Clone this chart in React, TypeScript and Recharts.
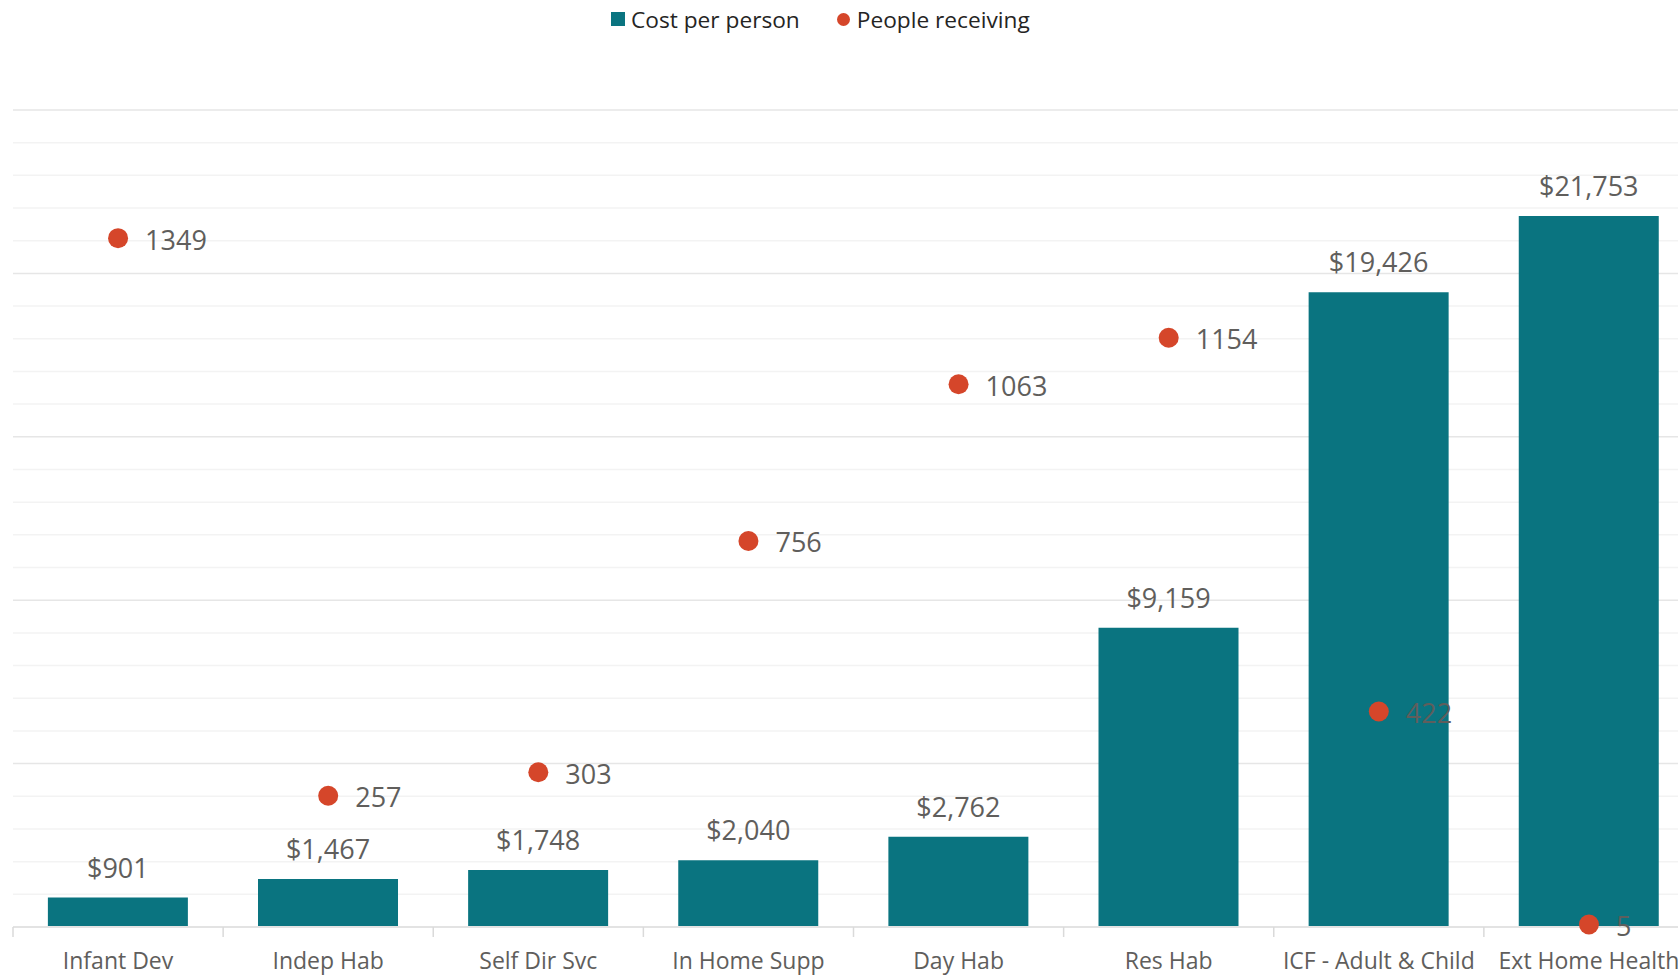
import React from 'react';
import {
  ComposedChart,
  Bar,
  Scatter,
  XAxis,
  YAxis,
  CartesianGrid,
  Legend,
  LabelList,
} from 'recharts';

const categories = [
  'Infant Dev',
  'Indep Hab',
  'Self Dir Svc',
  'In Home Supp',
  'Day Hab',
  'Res Hab',
  'ICF - Adult & Child',
  'Ext Home Health',
];
const costPerPerson = [901, 1467, 1748, 2040, 2762, 9159, 19426, 21753];
const peopleReceiving = [1349, 257, 303, 756, 1063, 1154, 422, 5];

const costDomain = [0, 25000];
const peopleDomain = [0, 1600];
const majorGridValues = [0, 5000, 10000, 15000, 20000, 25000];
const minorGridValues = [
  1000, 2000, 3000, 4000, 6000, 7000, 8000, 9000, 11000, 12000, 13000, 14000,
  16000, 17000, 18000, 19000, 21000, 22000, 23000, 24000,
];

const data = categories.map((name, i) => ({
  name,
  cost: costPerPerson[i],
  people: peopleReceiving[i],
}));

const FONT = '"Open Sans", "Noto Sans", sans-serif';
const TEXT_GRAY = '#605E5C';
const TEAL = '#0A7480';
const RED = '#D5462A';

const XTick = (props: any) => {
  const { x, y, payload } = props;
  const half = payload && typeof payload.offset === 'number' ? payload.offset : 0;
  return (
    <g>
      <line x1={x - half} x2={x - half} y1={y} y2={y + 10} stroke="#DADADA" strokeWidth={1.5} />
      <text
        x={x}
        y={y + 33}
        textAnchor="middle"
        dominantBaseline="central"
        fontSize={23}
        fill={TEXT_GRAY}
        fontFamily={FONT}
      >
        {payload.value}
      </text>
    </g>
  );
};

const PeopleDot = (props: any) => {
  const { cx, cy, payload } = props;
  if (cx == null || cy == null) return null;
  return (
    <g>
      <circle cx={cx} cy={cy} r={10} fill={RED} />
      <text
        x={cx + 27}
        y={cy + 1}
        dominantBaseline="central"
        fontSize={27}
        fill={TEXT_GRAY}
        fontFamily={FONT}
      >
        {payload.people}
      </text>
    </g>
  );
};

const LegendContent = (props: any) => {
  const { payload } = props;
  return (
    <div
      style={{
        display: 'flex',
        alignItems: 'center',
        paddingLeft: 611,
        height: 30,
        fontFamily: FONT,
        fontSize: 22.7,
        color: '#252423',
        whiteSpace: 'nowrap',
      }}
    >
      {(payload || []).map((entry: any, i: number) => (
        <div
          key={i}
          style={{ display: 'flex', alignItems: 'center', marginRight: i === 0 ? 37 : 0 }}
        >
          {entry.type === 'circle' ? (
            <span
              style={{
                display: 'inline-block',
                width: 13,
                height: 13,
                borderRadius: '50%',
                background: entry.color,
                marginRight: 7,
              }}
            />
          ) : (
            <span
              style={{
                display: 'inline-block',
                width: 14,
                height: 14,
                background: entry.color,
                marginRight: 6,
              }}
            />
          )}
          <span>{entry.value}</span>
        </div>
      ))}
    </div>
  );
};

const formatCost = (v: any) => '$' + Number(v).toLocaleString('en-US');

export default function App() {
  return (
    <div
      style={{
        position: 'fixed',
        left: 0,
        top: 0,
        width: 1678,
        height: 976,
        overflow: 'hidden',
        background: '#ffffff',
      }}
    >
      <ComposedChart
        width={1700}
        height={976}
        data={data}
        margin={{ top: 110, right: 6, bottom: 0, left: 13 }}
        barCategoryGap="16.6%"
      >
        <CartesianGrid
          vertical={false}
          horizontalValues={minorGridValues}
          stroke="#F3F3F3"
          strokeWidth={1.5}
        />
        <CartesianGrid
          vertical={false}
          horizontalValues={majorGridValues}
          stroke="#E6E6E6"
          strokeWidth={1.5}
        />
        <XAxis
          dataKey="name"
          height={49}
          tickSize={0}
          tickMargin={0}
          tickLine={false}
          axisLine={{ stroke: '#E3E3E3', strokeWidth: 2 }}
          tick={<XTick />}
          interval={0}
        />
        <YAxis hide domain={costDomain} />
        <YAxis yAxisId="people" hide domain={peopleDomain} />
        <Legend
          layout="horizontal"
          verticalAlign="middle"
          align="center"
          wrapperStyle={{ top: 4, left: 0, width: 1678 }}
          content={<LegendContent />}
        />
        <Bar
          dataKey="cost"
          name="Cost per person"
          fill={TEAL}
          legendType="square"
          isAnimationActive={false}
        >
          <LabelList
            dataKey="cost"
            position="top"
            offset={20}
            formatter={formatCost}
            fill={TEXT_GRAY}
            fontSize={27}
            fontFamily={FONT}
          />
        </Bar>
        <Scatter
          dataKey="people"
          name="People receiving"
          yAxisId="people"
          fill={RED}
          legendType="circle"
          shape={<PeopleDot />}
          isAnimationActive={false}
        />
      </ComposedChart>
    </div>
  );
}
